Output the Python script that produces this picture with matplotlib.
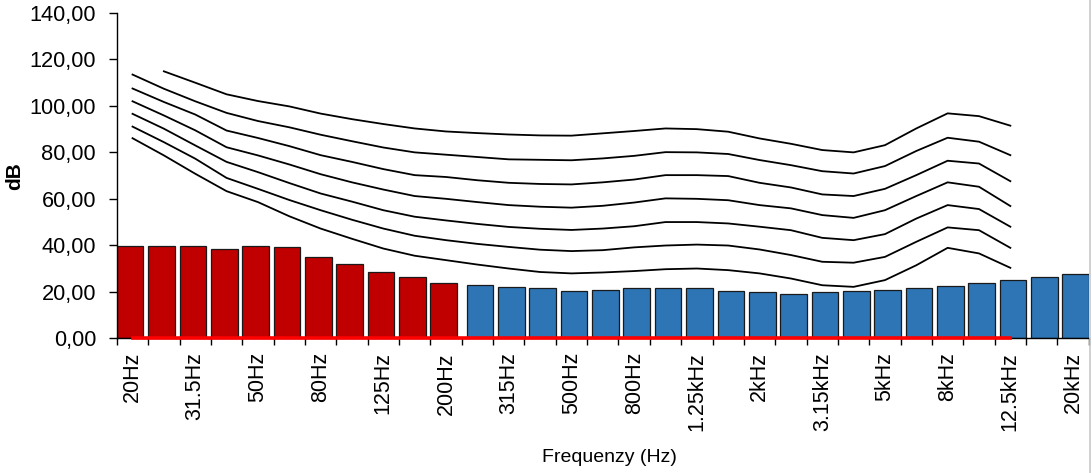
import numpy as np
import matplotlib.pyplot as plt

plt.rcParams['font.family'] = ['Liberation Sans', 'DejaVu Sans']

bands = ['20Hz', '25Hz', '31.5Hz', '40Hz', '50Hz', '63Hz', '80Hz', '100Hz', '125Hz', '160Hz',
         '200Hz', '250Hz', '315Hz', '400Hz', '500Hz', '630Hz', '800Hz', '1kHz', '1.25kHz',
         '1.6kHz', '2kHz', '2.5kHz', '3.15kHz', '4kHz', '5kHz', '6.3kHz', '8kHz', '10kHz',
         '12.5kHz', '16kHz', '20kHz']

# measured levels, low bands (red) and the rest (blue)
low_levels = [39.8, 39.8, 39.8, 38.6, 39.8, 39.2, 34.9, 31.9, 28.3, 26.4, 23.9]
high_levels = [22.7, 22.0, 21.4, 20.2, 20.8, 21.4, 21.4, 21.4, 20.2, 19.7, 19.0, 19.7,
               20.2, 20.8, 21.4, 22.5, 23.8, 25.1, 26.3, 27.6]

# equal loudness contours, 20Hz .. 12.5kHz
phon90 = [np.nan, 114.9, 110.0, 105.0, 102.1, 99.8, 96.7, 94.3, 92.2, 90.3, 89.0, 88.3, 87.7,
          87.3, 87.2, 88.2, 89.2, 90.3, 90.0, 88.9, 86.0, 83.7, 81.0, 80.0, 83.1, 90.3, 96.8,
          95.6, 91.5]
phon80 = [113.5, 107.4, 102.0, 97.0, 93.5, 90.8, 87.6, 84.8, 82.1, 80.0, 79.0, 78.0, 77.0,
          76.8, 76.6, 77.4, 78.5, 80.1, 80.0, 79.3, 76.7, 74.5, 71.9, 70.9, 74.1, 80.6, 86.3,
          84.6, 78.8]
phon70 = [107.5, 101.7, 96.3, 89.4, 86.2, 82.7, 78.8, 75.9, 72.8, 70.2, 69.4, 68.0, 66.9,
          66.4, 66.2, 67.1, 68.3, 70.2, 70.2, 69.8, 66.9, 64.9, 61.9, 61.2, 64.3, 70.2, 76.4,
          75.2, 67.6]
phon60 = [102.0, 95.9, 89.5, 82.2, 78.7, 74.8, 70.6, 67.1, 64.0, 61.2, 60.0, 58.6, 57.3,
          56.6, 56.2, 57.0, 58.4, 60.2, 60.0, 59.4, 57.3, 55.9, 53.0, 51.8, 55.1, 61.2, 67.1,
          65.2, 56.9]
phon50 = [96.6, 90.2, 83.0, 75.9, 71.5, 66.8, 62.3, 58.8, 55.1, 52.3, 50.7, 49.2, 47.9,
          47.1, 46.6, 47.2, 48.2, 50.0, 50.0, 49.4, 48.0, 46.5, 43.2, 42.2, 44.8, 51.5, 57.3,
          55.6, 48.0]
phon40 = [91.1, 84.4, 77.3, 69.0, 64.3, 59.5, 55.1, 51.0, 47.2, 44.1, 42.2, 40.6, 39.3,
          38.1, 37.5, 37.9, 39.1, 39.9, 40.3, 39.9, 38.2, 35.8, 32.9, 32.5, 35.0, 41.5, 47.7,
          46.5, 38.9]
phon30 = [86.1, 78.7, 70.8, 63.3, 58.6, 52.5, 47.2, 42.8, 38.6, 35.5, 33.6, 31.7, 30.0,
          28.5, 27.9, 28.3, 28.9, 29.7, 30.0, 29.3, 27.9, 25.7, 22.8, 22.1, 25.0, 31.4, 38.9,
          36.5, 30.3]
zero_line = [0, 0, 0, 0, 0, 0, 0, 0, 0, 0, 0, 0, 0, 0, 0, 0, 0, 0, 0, 0, 0, 0, 0, 0, 0, 0,
             0, 0, 0]

fig = plt.figure(figsize=(10.92, 4.73), dpi=100)
ax = fig.add_axes([0.107, 0.285, 0.89, 0.6875])

x = np.arange(len(bands))
x_low = x[:len(low_levels)]
x_high = x[len(low_levels):]

ax.bar(x_low - 0.075, low_levels, width=0.85, color='#C00000', edgecolor='#1a1a1a',
       linewidth=0.9, zorder=2)
ax.bar(x_high + 0.085, high_levels, width=0.85, color='#2E75B6', edgecolor='#1a1a1a',
       linewidth=0.9, zorder=2)

xc = x[:len(phon30)]
for curve in [phon90, phon80, phon70, phon60, phon50, phon40, phon30]:
    ax.plot(xc, curve, color='black', linewidth=1.3, zorder=3)
ax.plot(xc, zero_line, color='#FF0000', linewidth=2.6, zorder=4, clip_on=False)

ax.set_xlim(-0.5, len(bands) - 0.5)
ax.set_ylim(0, 140)
ax.set_yticks(np.arange(0, 141, 20))
ax.set_yticklabels([f'{v:.2f}'.replace('.', ',') for v in np.arange(0, 141, 20)],
                   fontsize=15.7)

ax.set_xticks(x[::2])
ax.set_xticklabels(bands[::2], rotation=90, fontsize=15.5)
ax.set_xticks(np.arange(-0.5, len(bands)), minor=True)
ax.tick_params(axis='x', which='major', length=0, pad=10)
ax.tick_params(axis='x', which='minor', length=5, width=1)
ax.tick_params(axis='y', length=6, width=1, pad=9)

for side in ['top', 'right']:
    ax.spines[side].set_visible(False)
for side in ['left', 'bottom']:
    ax.spines[side].set_linewidth(1)

ax.set_ylabel('dB', fontsize=15, fontweight='bold')
ax.yaxis.set_label_coords(-0.095, 0.5)
ax.set_xlabel('Frequenzy (Hz)', fontsize=14)
ax.xaxis.set_label_coords(0.507, -0.34)

# thin grey chart border on the right edge
fig.add_artist(plt.Line2D([0.9985, 0.9985], [0, 1], color='#c8c8c8', linewidth=1.2))

fig.savefig('out.png', dpi=100)
